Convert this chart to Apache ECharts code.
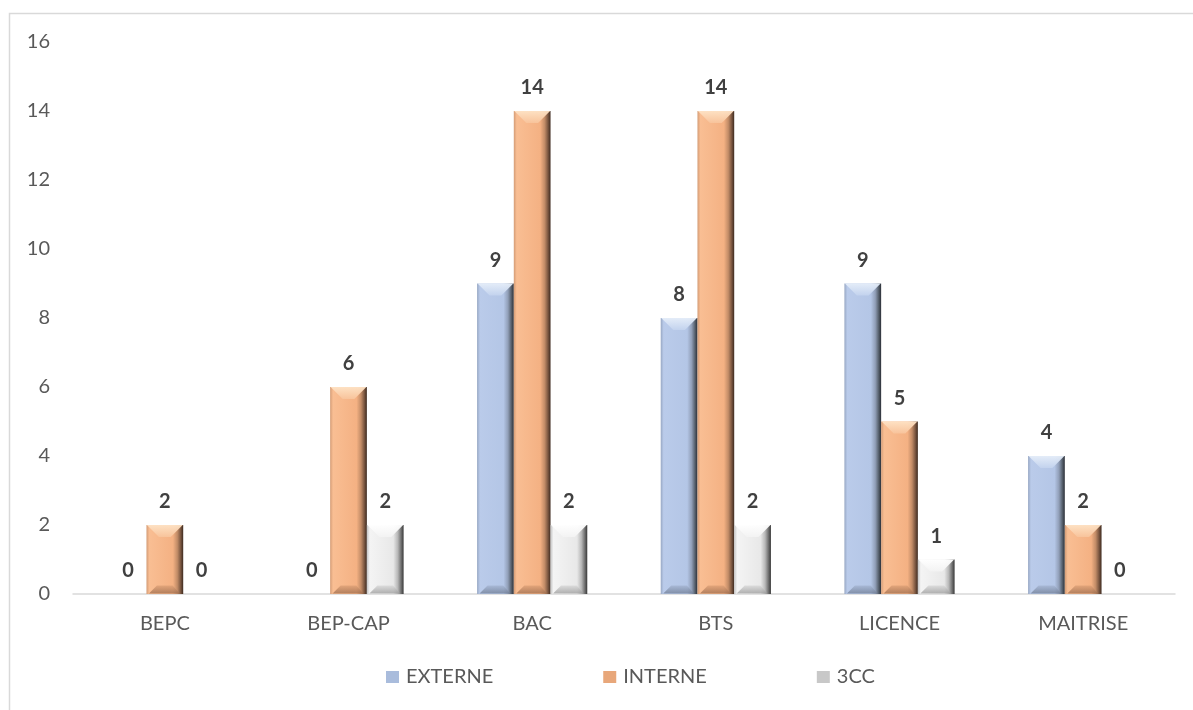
<!DOCTYPE html>
<html>
<head>
<meta charset="utf-8">
<script src="https://cdn.jsdelivr.net/npm/echarts@6/dist/echarts.min.js"></script>
<style>
html,body{margin:0;padding:0;background:#fff;}
#c{width:1193px;height:710px;}
</style>
</head>
<body>
<div id="c"></div>
<script>
var categories = ['BEPC', 'BEP-CAP', 'BAC', 'BTS', 'LICENCE', 'MAITRISE'];
var externe = [0, 0, 9, 8, 9, 4];
var interne = [2, 6, 14, 14, 5, 2];
var cc3 = [0, 2, 2, 2, 1, 0];
var seriesNames = ['EXTERNE', 'INTERNE', '3CC'];
var yTicks = [0, 2, 4, 6, 8, 10, 12, 14, 16];

function grad(stops, vertical) {
  return new echarts.graphic.LinearGradient(0, 0, vertical ? 0 : 1, vertical ? 1 : 0,
    stops.map(function (s) { return { offset: s[0], color: s[1] }; }));
}
var fills = [
  grad([[0, '#98a8c4'], [0.08, '#bacbea'], [0.72, '#b4c6e6'], [0.84, '#919fb8'], [0.93, '#58626f'], [1, '#2b2f37']]),
  grad([[0, '#d49c76'], [0.08, '#f9be93'], [0.72, '#f4b183'], [0.84, '#c28c67'], [0.93, '#7b5741'], [1, '#3d2a1f']]),
  grad([[0, '#c4c4c4'], [0.08, '#f4f4f4'], [0.72, '#e8e8e8'], [0.84, '#b8b8b8'], [0.93, '#727272'], [1, '#383838']])
];
var topBevel = [
  ['#e6eef9', '#c3d3ee'],
  ['#fee3c6', '#f8c49c'],
  ['#ffffff', '#f3f3f3']
];
var bottomBevel = [
  ['#a3b3d0', '#6f7c93'],
  ['#dc9f75', '#9c6c4e'],
  ['#d6d6d6', '#9a9a9a']
];
var legendColors = ['#a9bcdc', '#e8a77a', '#c8c8c8'];

var labelStyle = {
  show: true, position: 'top', distance: 13,
  fontFamily: 'Lato', fontWeight: 'bold', fontSize: 20, color: '#404040'
};

var dataSets = [externe, interne, cc3];
var series = dataSets.map(function (d, i) {
  return {
    name: seriesNames[i], type: 'bar', data: d,
    barGap: '0%', barCategoryGap: '40%',
    itemStyle: { color: fills[i] },
    label: labelStyle
  };
});

// bevel overlay drawn through the axes' own scales
dataSets.forEach(function (d, si) {
  series.push({
    name: '_bevel' + si, type: 'custom', silent: true, z: 5,
    data: d.map(function (v, ci) { return [ci, v]; }),
    renderItem: function (params, api) {
      var v = api.value(1);
      if (!v) return null;
      var top = api.coord([api.value(0), v]);
      var base = api.coord([api.value(0), 0]);
      var band = api.size([1, 0])[0];
      var w = band * 0.2;
      var cx = top[0] + (si - 1) * w;
      var L = cx - w / 2 + 0.5, R = cx + w / 2 - 0.5, T = top[1], B = base[1] - 0.5;
      var h = B - T;
      var dd = Math.min(12, h / 2, w / 2 - 2);
      var db = Math.min(8, h / 2);
      return {
        type: 'group',
        children: [{
          type: 'polygon',
          shape: { points: [[L, T], [R, T], [R - dd, T + dd], [L + dd, T + dd]] },
          style: { fill: grad([[0, topBevel[si][0]], [1, topBevel[si][1]]], true), opacity: 0.95 }
        }, {
          type: 'polygon',
          shape: { points: [[L + 2, B], [R - 3, B], [R - db - 2, B - db], [L + db + 2, B - db]] },
          style: { fill: grad([[0, bottomBevel[si][0]], [1, bottomBevel[si][1]]], true), opacity: 0.75 }
        }]
      };
    }
  });
});

var chart = echarts.init(document.getElementById('c'), null, { renderer: 'canvas' });
chart.setOption({
  animation: false,
  backgroundColor: '#ffffff',
  graphic: [{
    type: 'rect', silent: true, z: -1,
    shape: { x: 9.5, y: 13.5, width: 1300, height: 900 },
    style: { fill: 'none', stroke: '#d9d9d9', lineWidth: 1.5 }
  }],
  grid: { left: 73, right: 18, top: 42, bottom: 116, containLabel: false },
  legend: {
    bottom: 18, left: 381,
    itemWidth: 13, itemHeight: 12, itemGap: 110,
    icon: 'rect',
    textStyle: { fontFamily: 'Lato', fontSize: 20, color: '#595959', padding: [0, 0, 0, 2] },
    data: seriesNames.map(function (n, i) { return { name: n, itemStyle: { color: legendColors[i] } }; })
  },
  xAxis: {
    type: 'category', data: categories,
    axisLine: { lineStyle: { color: '#d9d9d9', width: 1.5 } },
    axisTick: { show: false },
    axisLabel: { fontFamily: 'Lato', fontSize: 20, color: '#595959', margin: 20 }
  },
  yAxis: {
    type: 'value', min: yTicks[0], max: yTicks[yTicks.length - 1], interval: 2,
    axisLine: { show: false }, axisTick: { show: false },
    splitLine: { show: false },
    axisLabel: { fontFamily: 'Lato', fontSize: 20, color: '#595959', margin: 23 }
  },
  series: series
});
</script>
</body>
</html>
